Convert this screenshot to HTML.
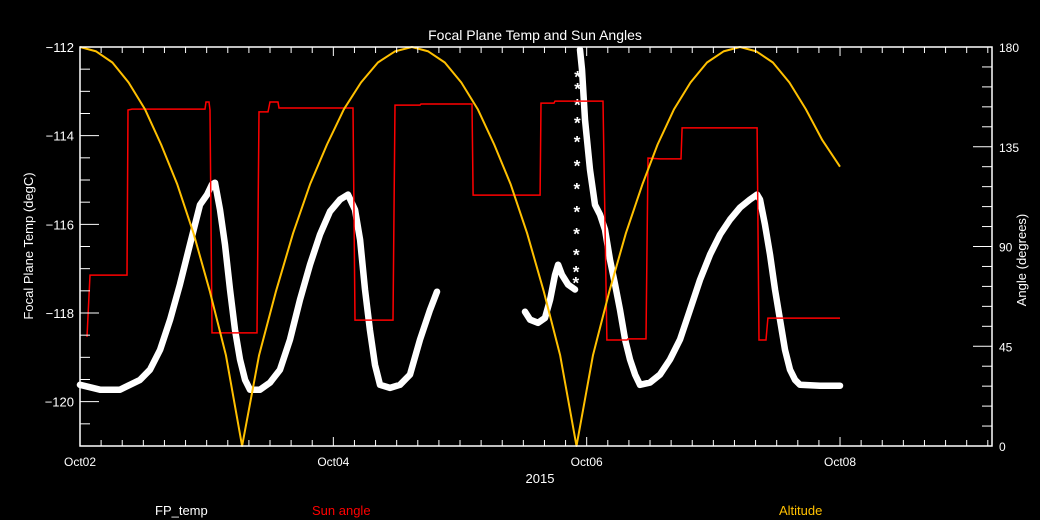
<!DOCTYPE html>
<html><head><meta charset="utf-8"><style>
html,body{margin:0;padding:0;background:#000;}
svg{display:block;font-family:"Liberation Sans",sans-serif;}
</style></head><body>
<svg id="chart" width="1040" height="520" viewBox="0 0 1040 520">
<rect x="0" y="0" width="1040" height="520" fill="#000"/>
<g id="plot"></g>
<g id="axes"></g>
<text x="535" y="40" fill="#fff" font-size="14" text-anchor="middle">Focal Plane Temp and Sun Angles</text>
<text x="540" y="483" fill="#fff" font-size="13" text-anchor="middle">2015</text>
<text transform="translate(33,246) rotate(-90)" fill="#fff" font-size="13" text-anchor="middle">Focal Plane Temp (degC)</text>
<text transform="translate(1026,260) rotate(-90)" fill="#fff" font-size="13" text-anchor="middle">Angle (degrees)</text>
<text x="155" y="515" fill="#fff" font-size="13">FP_temp</text>
<text x="312" y="515" fill="#ff0000" font-size="13">Sun angle</text>
<text x="779" y="515" fill="#ffc000" font-size="13">Altitude</text>
</svg>
<script>
// ---- data (days since Oct02 00:00) ----
var altDays=[0,.128,.256,.384,.512,.64,.768,.896,1.024,1.152,1.28,1.414,1.548,1.682,1.816,1.95,2.084,2.218,2.352,2.486,2.62,2.75,2.88,3.01,3.14,3.27,3.40,3.53,3.66,3.79,3.92,4.05,4.18,4.31,4.44,4.56,4.69,4.82,4.95,5.08,5.21,5.34,5.47,5.60,5.73,5.86,6.0];
var altVals=[180,178,173,164,152,136,118,96,70,41,0,41,70,96,118,136,152,164,173,178,180,178,173,164,152,136,118,96,70,41,0,41,70,96,118,136,152,164,173,178,180,178,173,164,152,138,126];
var sunDays=[.055,.079,.371,.379,.411,.987,.995,1.018,1.026,1.042,1.397,1.413,1.484,1.5,1.563,1.571,2.155,2.171,2.471,2.487,2.684,2.692,3.095,3.103,3.632,3.639,3.742,3.75,4.105,4.129,4.16,4.318,4.326,4.468,4.484,4.579,4.745,4.753,4.776,5.345,5.36,5.416,5.431,6.0];
var sunVals=[49.2,77.1,77.1,151.6,152.0,152.0,155.2,155.2,151.6,51.0,51.0,150.7,150.7,155.2,155.2,152.5,152.5,56.8,56.8,153.8,153.8,154.3,154.3,113.2,113.2,154.7,154.7,155.6,155.6,155.6,47.8,47.8,48.3,48.3,129.9,129.5,129.5,143.5,143.5,143.5,47.8,47.8,57.7,57.7];
var fpDays=[0,.158,.316,.474,.553,.632,.711,.789,.868,.947,1.003,1.042,1.066,1.105,1.145,1.184,1.224,1.263,1.303,1.342,1.421,1.5,1.579,1.658,1.737,1.816,1.895,1.974,2.053,2.116,2.171,2.211,2.25,2.289,2.329,2.368,2.447,2.526,2.605,2.684,2.763,2.818,null,3.513,3.553,3.616,3.671,3.711,3.75,3.774,3.805,3.853,3.908,null,3.947,3.963,3.987,4.026,4.066,4.105,4.145,4.184,4.224,4.263,4.303,4.342,4.382,4.421,4.5,4.579,4.658,4.737,4.816,4.895,4.974,5.053,5.132,5.211,5.289,5.345,5.368,5.408,5.447,5.487,5.526,5.566,5.605,5.645,5.684,5.842,6.0];
var fpVals=[-119.62,-119.73,-119.73,-119.51,-119.28,-118.83,-118.15,-117.36,-116.46,-115.56,-115.33,-115.10,-115.06,-115.67,-116.46,-117.47,-118.38,-119.05,-119.51,-119.73,-119.73,-119.57,-119.28,-118.60,-117.70,-116.91,-116.23,-115.71,-115.44,-115.33,-115.67,-116.35,-117.47,-118.38,-119.17,-119.62,-119.69,-119.62,-119.39,-118.60,-117.93,-117.52,null,-117.97,-118.15,-118.22,-118.11,-117.70,-117.14,-116.91,-117.14,-117.36,-117.47,null,-112.06,-112.51,-113.64,-114.77,-115.56,-115.78,-116.12,-116.80,-117.36,-117.93,-118.60,-119.05,-119.39,-119.62,-119.57,-119.39,-119.05,-118.60,-117.93,-117.25,-116.68,-116.23,-115.89,-115.62,-115.44,-115.33,-115.44,-116.01,-116.68,-117.47,-118.15,-118.83,-119.28,-119.51,-119.62,-119.64,-119.64];
var fpSparseDays=[3.928,3.928,3.926,3.926,3.924,3.924,3.922,3.922,3.92,3.918,3.916,3.914];
var fpSparseVals=[-112.62,-112.89,-113.25,-113.66,-114.09,-114.63,-115.15,-115.67,-116.16,-116.64,-117.02,-117.27];
var xTickDays=[0,2,4,6];
var xTickLabels=["Oct02","Oct04","Oct06","Oct08"];
var yLeftTicks=[-112,-114,-116,-118,-120];
var yRightTicks=[0,45,90,135,180];

// ---- axis functions ----
var X0=80,X1=992,Y0=47,Y1=446,PXDAY=126.67;
function xs(d){return X0+d*PXDAY;}
function yl(t){return Y0+(-112-t)/9*(Y1-Y0);}
function yr(a){return Y1-a/180*(Y1-Y0);}
var NS="http://www.w3.org/2000/svg";
var plot=document.getElementById('plot'),axes=document.getElementById('axes');
function mk(tag,attrs,parent){var e=document.createElementNS(NS,tag);for(var k in attrs)e.setAttribute(k,attrs[k]);parent.appendChild(e);return e;}

// FP temp thick trace
var d="",pen=false;
for(var i=0;i<fpDays.length;i++){
  if(fpDays[i]===null){pen=false;continue;}
  d+=(pen?"L":"M")+xs(fpDays[i]).toFixed(1)+" "+yl(fpVals[i]).toFixed(1)+" ";pen=true;
}
var fp=mk('path',{d:d,fill:'none',stroke:'#fff','stroke-width':6.5,'stroke-linejoin':'round','stroke-linecap':'round'},plot);


for(var j=0;j<fpSparseDays.length;j++){
  var s=mk('text',{x:xs(fpSparseDays[j]),y:yl(fpSparseVals[j])+8,fill:'#fff','font-size':17,'font-weight':'bold','text-anchor':'middle'},plot);
  s.textContent='*';
  
  
}
// Sun angle
var sp=sunDays.map(function(v,i){return xs(v).toFixed(1)+","+yr(sunVals[i]).toFixed(1);}).join(" ");
var sun=mk('polyline',{points:sp,fill:'none',stroke:'#ff0000','stroke-width':1.5},plot);


// Altitude
var ap=altDays.map(function(v,i){return xs(v).toFixed(1)+","+yr(altVals[i]).toFixed(1);}).join(" ");
var alt=mk('polyline',{points:ap,fill:'none',stroke:'#ffc000','stroke-width':2,'stroke-linejoin':'round'},plot);



// frame
var fr=mk('rect',{x:X0,y:Y0,width:X1-X0,height:Y1-Y0,fill:'none',stroke:'#fff','stroke-width':1.5},axes);


for(var m=0;m*PXDAY/6+X0<=X1+0.5;m++){
  var xx=X0+m*PXDAY/6,len=(m%12===0)?9:6;
  mk('line',{x1:xx,y1:Y1,x2:xx,y2:Y1-len,stroke:'#fff','stroke-width':1},axes);
  mk('line',{x1:xx,y1:Y0,x2:xx,y2:Y0+len,stroke:'#fff','stroke-width':1},axes);
}
xTickDays.forEach(function(v,i){
  var t=mk('text',{x:xs(v),y:466,fill:'#fff','font-size':12,'text-anchor':'middle'},axes);
  t.textContent=xTickLabels[i];
  
  
});
for(var q=-112;q>=-121;q-=0.5){
  var maj=(q%2===0);
  mk('line',{x1:X0,y1:yl(q),x2:X0+(maj?19:10),y2:yl(q),stroke:'#fff','stroke-width':1},axes);
}
yLeftTicks.forEach(function(v){
  var t=mk('text',{x:74,y:yl(v)+5,fill:'#fff','font-size':13,'text-anchor':'end'},axes);
  t.textContent='\u2212'+Math.abs(v);
  
  
});
for(var r=0;r<=180;r+=9){
  var mj=(r%45===0);
  mk('line',{x1:X1,y1:yr(r),x2:X1-(mj?19:10),y2:yr(r),stroke:'#fff','stroke-width':1},axes);
}
yRightTicks.forEach(function(v){
  var t=mk('text',{x:999,y:yr(v)+5,fill:'#fff','font-size':12,'text-anchor':'start'},axes);
  t.textContent=String(v);
  
  
});
</script>
</body></html>
